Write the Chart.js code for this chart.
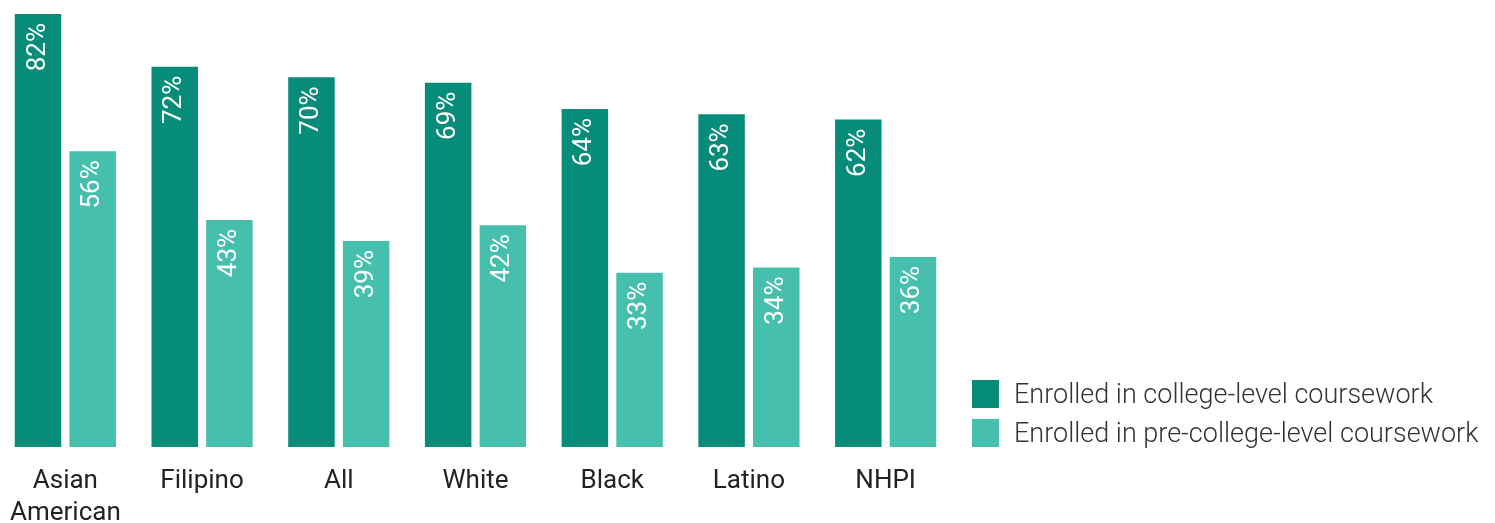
<!DOCTYPE html>
<html>
<head>
<meta charset="utf-8">
<script src="https://cdn.jsdelivr.net/npm/chart.js@4/dist/chart.umd.min.js"></script>
<style>
  body { margin: 0; background: #fff; }
  #wrap { width: 1495px; height: 523px; position: relative; overflow: hidden; }
  #chartBox { position: absolute; left: -3px; top: 0; width: 1498px; height: 539px; }
  #legend { position: absolute; left: 972px; top: 380px; font-family: Roboto, sans-serif; font-size: 27px; font-weight: 300; color: #333; }
  #legend .item { display: flex; align-items: center; height: 28px; margin-bottom: 11px; white-space: nowrap; }
  #legend .box { width: 27px; height: 28px; margin-right: 15px; }
</style>
</head>
<body>
<div id="wrap"><div id="chartBox"><canvas id="myChart"></canvas></div><div id="legend"></div></div>
<script>
// Données
const categories = [['Asian', 'American'], 'Filipino', 'All', 'White', 'Black', 'Latino', 'NHPI'];
const collegeLevel = [82, 72, 70, 69, 64, 63, 62];
const preCollegeLevel = [56, 43, 39, 42, 33, 34, 36];
const seriesNames = ['Enrolled in college-level coursework', 'Enrolled in pre-college-level coursework'];

const darkGreen = '#078c7a';
const lightGreen = '#46bfad';

// étiquettes verticales dans les barres
const barLabels = {
    id: 'barLabels',
    afterDatasetsDraw(chart) {
        const ctx = chart.ctx;
        ctx.save();
        ctx.fillStyle = '#ffffff';
        ctx.font = '26px Roboto';
        ctx.textAlign = 'right';
        ctx.textBaseline = 'middle';
        chart.data.datasets.forEach((ds, i) => {
            chart.getDatasetMeta(i).data.forEach((bar, j) => {
                ctx.save();
                ctx.translate(bar.x, bar.y + 9);
                ctx.rotate(-Math.PI / 2);
                ctx.fillText(ds.data[j] + '%', 0, 0);
                ctx.restore();
            });
        });
        ctx.restore();
    }
};

const data = {
    labels: categories,
    datasets: [{
        label: seriesNames[0],
        data: collegeLevel,
        backgroundColor: darkGreen,
    }, {
        label: seriesNames[1],
        data: preCollegeLevel,
        backgroundColor: lightGreen,
    }]
};

const config = {
    type: 'bar',
    data: data,
    options: {
        responsive: true,
        maintainAspectRatio: false,
        animation: false,
        categoryPercentage: 0.8,
        barPercentage: 0.85,
        layout: {
            padding: { left: 0, top: 14, right: 541, bottom: 0 }
        },
        scales: {
            x: {
                grid: { display: false },
                border: { display: false },
                ticks: {
                    color: '#222',
                    padding: 10,
                    font: { family: 'Roboto', size: 26, lineHeight: 1.23 }
                }
            },
            y: {
                display: false,
                min: 0,
                max: 82
            }
        },
        plugins: {
            legend: { display: false },
            tooltip: { enabled: false }
        }
    },
    plugins: [barLabels]
};

var myChart = new Chart(document.getElementById('myChart'), config);

// légende
const legend = document.getElementById('legend');
data.datasets.forEach(ds => {
    const item = document.createElement('div');
    item.className = 'item';
    const box = document.createElement('span');
    box.className = 'box';
    box.style.background = ds.backgroundColor;
    item.appendChild(box);
    item.appendChild(document.createTextNode(ds.label));
    legend.appendChild(item);
});
</script>
</body>
</html>
